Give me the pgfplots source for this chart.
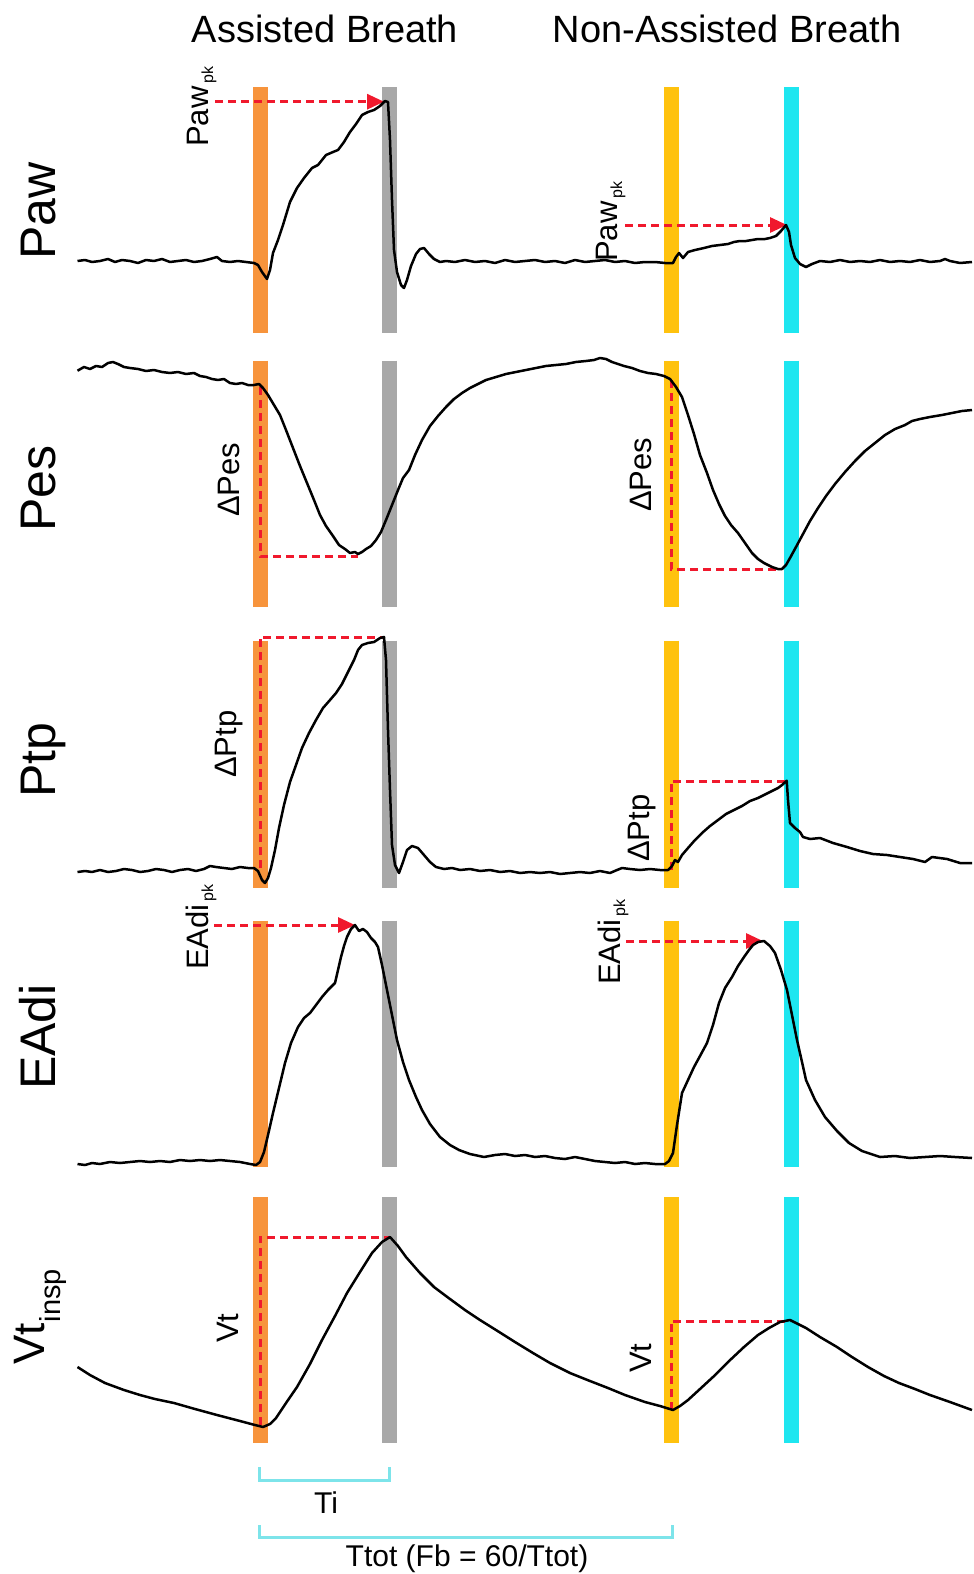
\documentclass[border=0pt]{standalone}
\usepackage{fontspec}
\setmainfont{Liberation Sans}
\usepackage{pgfplots}
\pgfplotsset{compat=1.18}
\usetikzlibrary{arrows.meta}
\definecolor{cOr}{RGB}{247,148,60}
\definecolor{cGr}{RGB}{168,168,168}
\definecolor{cYe}{RGB}{255,194,14}
\definecolor{cCy}{RGB}{30,230,240}
\definecolor{cBr}{RGB}{125,228,234}
\definecolor{cRd}{RGB}{240,25,45}
\tikzset{
  vbar/.style={line width=15pt},
  rdash/.style={color=cRd, line width=3pt, dash pattern=on 8pt off 5pt},
  rarrow/.style={rdash, -{Triangle[length=17pt,width=15pt]}},
  curve/.style={black, line width=2.5pt, line join=round},
  big/.style={rotate=90, anchor=base west, inner sep=0pt, font=\fontsize{50}{50}\selectfont},
  small/.style={rotate=90, anchor=base west, inner sep=0pt, font=\fontsize{31}{31}\selectfont},
}
\newcommand{\sub}[1]{\hspace{3pt}\raisebox{-5pt}{\fontsize{16}{16}\selectfont #1}}
\begin{document}
\begin{tikzpicture}
\begin{axis}[scale only axis, width=972pt, height=1574pt,
  xmin=0, xmax=972, ymin=0, ymax=1574, y dir=reverse,
  hide axis, clip=false]
\addplot[draw=none] coordinates {(0,0) (972,1574)};
% ---- coloured bars
\addplot[vbar, cOr] coordinates {(260.4,87.3) (260.4,333.3)};
\addplot[vbar, cGr] coordinates {(389.3,87.3) (389.3,333.3)};
\addplot[vbar, cYe] coordinates {(671.4,87.3) (671.4,333.3)};
\addplot[vbar, cCy] coordinates {(791,87.3) (791,333.3)};
\addplot[vbar, cOr] coordinates {(260.4,360.7) (260.4,606.7)};
\addplot[vbar, cGr] coordinates {(389.3,360.7) (389.3,606.7)};
\addplot[vbar, cYe] coordinates {(671.4,360.7) (671.4,606.7)};
\addplot[vbar, cCy] coordinates {(791,360.7) (791,606.7)};
\addplot[vbar, cOr] coordinates {(260.4,640.7) (260.4,887.5)};
\addplot[vbar, cGr] coordinates {(389.3,640.7) (389.3,887.5)};
\addplot[vbar, cYe] coordinates {(671.4,640.7) (671.4,887.5)};
\addplot[vbar, cCy] coordinates {(791,640.7) (791,887.5)};
\addplot[vbar, cOr] coordinates {(260.4,920.7) (260.4,1166.7)};
\addplot[vbar, cGr] coordinates {(389.3,920.7) (389.3,1166.7)};
\addplot[vbar, cYe] coordinates {(671.4,920.7) (671.4,1166.7)};
\addplot[vbar, cCy] coordinates {(791,920.7) (791,1166.7)};
\addplot[vbar, cOr] coordinates {(260.4,1197) (260.4,1443)};
\addplot[vbar, cGr] coordinates {(389.3,1197) (389.3,1443)};
\addplot[vbar, cYe] coordinates {(671.4,1197) (671.4,1443)};
\addplot[vbar, cCy] coordinates {(791,1197) (791,1443)};
% ---- red dashed guides
\addplot[rarrow] coordinates {(215,101.7) (384,101.7)};
\addplot[rarrow] coordinates {(625,225) (787,225)};
\addplot[rdash] coordinates {(260,387) (260,556) (358,556)};
\addplot[rdash] coordinates {(671,380) (671,569) (781,569)};
\addplot[rdash] coordinates {(260,868) (260,637) (384,637)};
\addplot[rdash] coordinates {(671,870) (671,781) (786,781)};
\addplot[rarrow] coordinates {(214,925) (355,925)};
\addplot[rarrow] coordinates {(626,941) (763,941)};
\addplot[rdash] coordinates {(260,1425) (260,1237) (390,1237)};
\addplot[rdash] coordinates {(671,1410) (671,1321) (790,1321)};
% ---- brackets
\addplot[cBr, line width=2.5pt] coordinates {(259.5,1467) (259.5,1480.5) (389.5,1480.5) (389.5,1467)};
\addplot[cBr, line width=2.5pt] coordinates {(259.5,1525) (259.5,1537.5) (672.5,1537.5) (672.5,1525)};
% ---- Paw
\addplot[curve] coordinates {(77.5,261)(85,260)(92,262)(100,261)(108,259)(115,262)(122,260)(130,261)(138,263)(146,260)(154,261)(162,259)(170,262)(178,261)(186,260)(194,262)(202,261)(210,259)(217,257)(222,261)(230,262)(238,261)(246,262)(254,263)(258,265)(262,272)(267,279)(270,270)(273,253)(278,240)(283,225)(290,202)(297,188)(304,178)(312,168)(318,165)(326,155)(333,152)(338,150)(344,142)(350,132)(356,124)(362,115)(368,112)(374,110)(380,106)(385,101)(388,102)(390,140)(392,200)(394,250)(397,272)(401,285)(404,288)(407,280)(411,266)(416,254)(420,249)(424,248)(429,254)(434,259)(440,262)(446,261)(455,262)(465,260)(475,262)(485,261)(495,263)(505,260)(515,262)(525,261)(535,260)(545,262)(555,261)(565,263)(575,260)(585,262)(595,261)(605,260)(615,262)(625,261)(635,263)(645,262)(655,262)(665,263)(673,263)(676,257)(679,253)(683,258)(688,252)(695,250)(704,248)(712,246)(720,245)(728,244)(734,242)(740,241)(746,241)(752,240)(758,239)(765,239)(770,238)(776,236)(781,231)(786,225)(789,232)(791,245)(795,258)(800,264)(806,267)(812,264)(820,261)(830,262)(840,260)(850,262)(860,261)(870,262)(880,260)(890,262)(900,261)(910,262)(920,260)(930,262)(940,261)(945,259)(950,261)(960,263)(972,262)};
% ---- Pes
\addplot[curve] coordinates {(77.5,370.7)(84,367)(90,369)(96,366)(102,367)(108,363)(113,362)(118,364)(124,367)(130,368)(138,369)(146,371)(154,370)(162,372)(170,373)(178,372)(186,374)(194,373)(200,376)(206,377)(212,379)(218,380)(224,379)(230,383)(236,384)(242,383)(248,385)(254,385)(259,384)(263,388)(268,395)(274,405)(280,415)(286,430)(293,448)(300,466)(307,483)(314,500)(320,515)(326,526)(333,536)(339,545)(345,549)(350,553)(355,552)(358,554)(362,552)(366,549)(371,546)(376,540)(381,532)(386,520)(392,505)(398,490)(403,478)(409,470)(415,455)(422,440)(430,426)(438,416)(446,407)(454,399)(462,393)(470,388)(478,384)(486,380)(496,377)(506,374)(516,372)(526,370)(536,368)(546,366)(556,365)(566,364)(576,362)(586,361)(594,360)(600,358)(606,359)(612,362)(618,364)(624,366)(632,368)(640,371)(648,373)(656,374)(664,376)(670,379)(676,387)(682,397)(688,415)(694,434)(700,455)(707,473)(713,490)(719,504)(725,516)(731,525)(738,533)(745,543)(752,553)(758,559)(764,563)(772,567)(778,569)(782,569)(786,565)(790,558)(796,547)(803,534)(810,521)(818,508)(826,496)(835,484)(845,472)(855,461)(865,451)(875,443)(885,435)(895,429)(905,425)(912,421)(920,419)(930,417)(942,415)(952,413)(962,411)(972,410)};
% ---- Ptp
\addplot[curve] coordinates {(77.5,872)(85,871)(92,872)(100,870)(108,872)(116,871)(124,869)(132,870)(140,872)(148,871)(156,869)(164,870)(172,872)(180,870)(188,869)(196,871)(204,869)(210,866)(216,867)(224,868)(232,869)(240,867)(248,868)(254,868)(258,871)(262,880)(265,883)(268,878)(271,868)(275,850)(279,828)(284,805)(290,782)(296,765)(302,748)(309,733)(316,720)(323,708)(330,700)(336,693)(342,684)(348,672)(354,660)(358,650)(362,645)(368,643)(374,642)(380,638)(384,637)(386,660)(388,730)(390,790)(392,845)(395,865)(399,873)(403,862)(407,850)(412,846)(418,848)(424,855)(430,862)(436,867)(444,869)(452,868)(460,870)(470,869)(480,871)(490,870)(500,872)(510,871)(520,873)(530,872)(540,873)(550,872)(560,874)(570,873)(580,872)(590,873)(600,871)(610,873)(617,870)(622,868)(630,869)(640,870)(650,869)(660,870)(668,870)(672,866)(675,860)(678,862)(682,855)(688,848)(695,840)(702,833)(710,826)(718,820)(726,814)(734,810)(742,806)(750,801)(758,798)(766,794)(772,791)(778,788)(782,785)(786.7,780.7)(788,800)(790,823)(795,828)(800,832)(803,837)(810,839)(820,838)(833,843)(847,847)(860,851)(873,854)(887,855)(900,857)(913,859)(925,862)(932,857)(947,859)(960,863)(972,863)};
% ---- EAdi
\addplot[curve] coordinates {(77.5,1164)(85,1165)(92,1163)(100,1164)(110,1162)(120,1163)(130,1162)(140,1161)(150,1162)(160,1161)(170,1162)(180,1160)(190,1161)(200,1160)(210,1161)(220,1160)(230,1161)(240,1162)(250,1164)(256,1165)(260,1162)(264,1152)(268,1135)(273,1113)(279,1088)(285,1063)(291,1043)(298,1027)(304,1018)(310,1013)(316,1005)(322,997)(328,990)(335,983)(338,970)(341,957)(344,946)(347,937)(351,929)(355,925)(359,931)(363,929)(367,932)(371,938)(375,942)(378,947)(382,965)(387,990)(392,1015)(397,1040)(403,1062)(409,1080)(416,1097)(422,1110)(430,1124)(440,1137)(450,1145)(459,1150)(470,1154)(484,1157)(495,1155)(505,1154)(515,1156)(525,1155)(535,1157)(545,1156)(555,1158)(565,1159)(575,1157)(585,1159)(595,1161)(605,1162)(615,1163)(625,1162)(635,1164)(645,1163)(655,1164)(665,1164)(669,1161)(673,1153)(677,1125)(682,1093)(688,1080)(694,1067)(700,1056)(707,1043)(713,1025)(719,1003)(725,988)(732,977)(738,966)(744,957)(749,950)(753,945)(758,942)(764,941)(770,946)(775,953)(781,970)(787,990)(792,1015)(797,1040)(802,1062)(806,1080)(815,1100)(825,1117)(837,1131)(849,1143)(862,1151)(880,1157)(895,1156)(910,1158)(925,1157)(940,1156)(955,1157)(972,1158)};
% ---- Vt
\addplot[curve] coordinates {(77.5,1367)(90,1375)(105,1383)(124,1390)(140,1395)(155,1399)(174,1403)(195,1409)(217,1415)(240,1421)(255,1425)(263,1427)(270,1424)(276,1418)(286,1403)(297,1387)(310,1364)(322,1340)(335,1316)(347,1293)(360,1272)(372,1253)(382,1242)(390,1237)(398,1246)(406,1257)(420,1273)(434,1287)(450,1299)(465,1310)(480,1320)(496,1330)(515,1342)(533,1353)(550,1363)(570,1373)(590,1381)(608,1388)(625,1395)(645,1402)(660,1406)(673,1410)(680,1406)(688,1400)(700,1389)(713,1377)(728,1362)(744,1347)(758,1335)(769,1328)(780,1322)(790,1320)(798,1324)(806,1328)(820,1337)(837,1347)(852,1357)(868,1367)(884,1376)(899,1383)(915,1389)(930,1395)(950,1402)(972,1410)};
% ---- texts
\node[anchor=base, inner sep=0pt, font=\fontsize{38}{38}\selectfont] at (axis cs:325,42) {Assisted Breath};
\node[anchor=base, inner sep=0pt, font=\fontsize{38}{38}\selectfont] at (axis cs:727,42) {Non-Assisted Breath};
\node[big] at (axis cs:55,260) {Paw};
\node[big] at (axis cs:55,532) {Pes};
\node[big] at (axis cs:55,798) {Ptp};
\node[big] at (axis cs:55,1090) {EAdi};
\node[rotate=90, anchor=base west, inner sep=0pt, font=\fontsize{44}{44}\selectfont] at (axis cs:44,1365) {Vt\hspace{1pt}\raisebox{-16pt}{\fontsize{29}{29}\selectfont insp}};
\node[small] at (axis cs:208,147) {Paw\sub{pk}};
\node[small] at (axis cs:617,262) {Paw\sub{pk}};
\node[small] at (axis cs:208,970) {EAdi\sub{pk}};
\node[small] at (axis cs:620,985) {EAdi\sub{pk}};
\node[small] at (axis cs:239,517) {ΔPes};
\node[small] at (axis cs:651,512) {ΔPes};
\node[small] at (axis cs:236,778) {ΔPtp};
\node[small] at (axis cs:649,862) {ΔPtp};
\node[small] at (axis cs:238,1343) {Vt};
\node[small] at (axis cs:651,1373) {Vt};
\node[anchor=base, inner sep=0pt, font=\fontsize{30}{30}\selectfont] at (axis cs:326,1513) {Ti};
\node[anchor=base, inner sep=0pt, font=\fontsize{30}{30}\selectfont] at (axis cs:467,1566) {Ttot (Fb = 60/Ttot)};
\end{axis}
\end{tikzpicture}
\end{document}
